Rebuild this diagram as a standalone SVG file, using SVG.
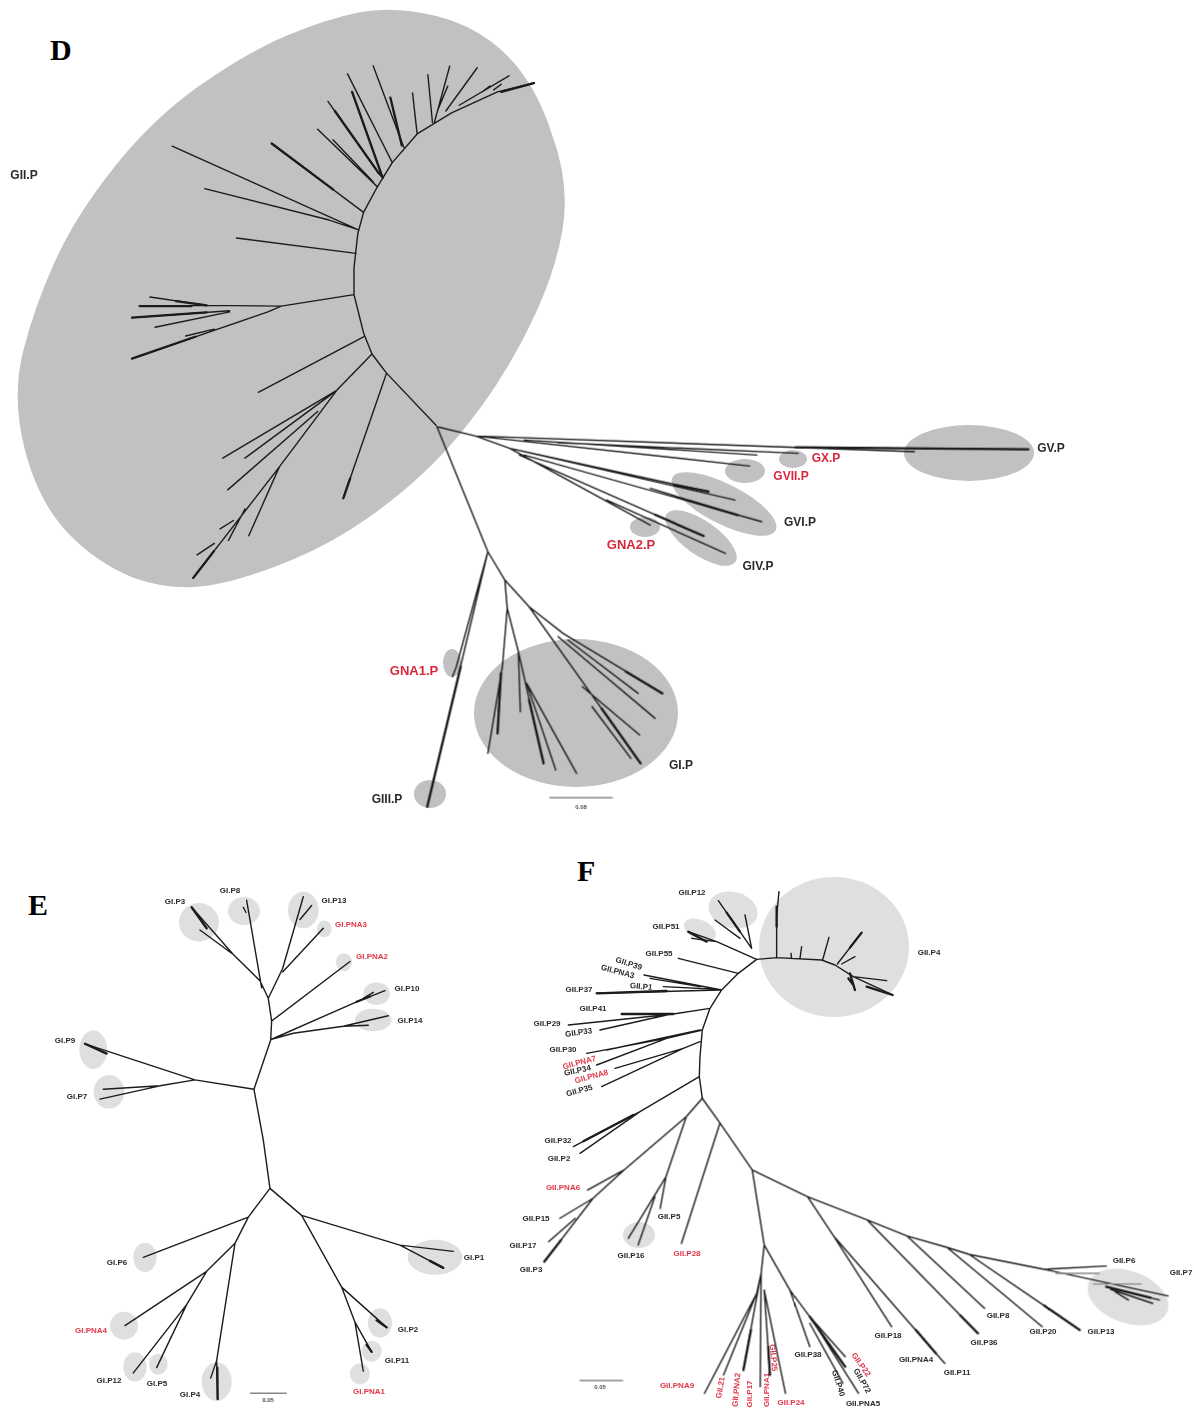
<svg xmlns="http://www.w3.org/2000/svg" width="1194" height="1409" viewBox="0 0 1194 1409">
<style>
text{font-family:"Liberation Sans",Arial,sans-serif;font-weight:bold;text-anchor:middle;fill:#2a2a2a}
.big{font-family:"Liberation Serif","Times New Roman",serif;font-size:30px;fill:#000;text-anchor:start}
.d{font-size:12px}.dr{font-size:13px;fill:#d8283c}
.s{font-size:8px}.sr{font-size:8px;fill:#e0384a}
.tiny{font-size:6px;fill:#555}
.c1{fill:#c2c0c1}.c2{fill:#e0dfe0}
.l{fill:none;stroke:#1c1c1c;stroke-width:1.4;vector-effect:non-scaling-stroke;stroke-linecap:round;stroke-linejoin:round}
.t{fill:none;stroke:#1a1a1a;stroke-width:2.3;vector-effect:non-scaling-stroke;stroke-linecap:round}
.g{fill:none;stroke:#888;stroke-width:1.4;vector-effect:non-scaling-stroke}
</style>
<defs>
<filter id="bl" x="-5%" y="-5%" width="110%" height="110%"><feGaussianBlur stdDeviation="0.35"/></filter>
<filter id="bl2" x="-5%" y="-5%" width="110%" height="110%"><feGaussianBlur stdDeviation="0.55"/></filter>
</defs>
<rect width="1194" height="1409" fill="#fff"/>
<text class="big" x="50" y="60">D</text>
<text class="big" x="28" y="915">E</text>
<text class="big" x="577" y="881">F</text>

<g id="nodes-d" filter="url(#bl)">
<g id="d-gii"><path class="c1" transform="scale(.3827)" d="M940 32Q1030 15 1140 42Q1250 70 1325 145Q1400 220 1442 350Q1490 480 1470 600Q1450 720 1380 860Q1310 1000 1225 1105Q1140 1215 1020 1310Q900 1405 770 1460Q640 1515 545 1530Q450 1545 350 1510Q250 1470 175 1390Q100 1310 65 1175Q30 1040 60 920Q90 800 145 680Q200 560 300 435Q400 310 520 225Q640 140 745 95Q850 50 940 32Z"/><text class="d" x="24" y="179">GII.P</text></g>
<g id="d-gv"><ellipse class="c1" cx="969" cy="453" rx="65" ry="28"/><text class="d" x="1051" y="452">GV.P</text></g>
<g id="d-gx"><ellipse class="c1" cx="793" cy="459" rx="14" ry="9"/><text class="dr" x="826" y="462" style="font-size:12px">GX.P</text></g>
<g id="d-gvii"><ellipse class="c1" cx="745" cy="471" rx="20" ry="12"/><text class="dr" x="791" y="480" style="font-size:12px">GVII.P</text></g>
<g id="d-gvi"><ellipse class="c1" cx="724" cy="504" rx="58" ry="20" transform="rotate(27 724 504)"/><text class="d" x="800" y="526">GVI.P</text></g>
<g id="d-gna2"><ellipse class="c1" cx="645" cy="527" rx="15" ry="10"/><text class="dr" x="631" y="549">GNA2.P</text></g>
<g id="d-giv"><ellipse class="c1" cx="701" cy="538" rx="42" ry="17" transform="rotate(35 701 538)"/><text class="d" x="758" y="570">GIV.P</text></g>
<g id="d-gna1"><ellipse class="c1" cx="452" cy="663" rx="9" ry="14"/><text class="dr" x="414" y="675">GNA1.P</text></g>
<g id="d-gi"><ellipse class="c1" cx="576" cy="713" rx="102" ry="74"/><text class="d" x="681" y="769">GI.P</text></g>
<g id="d-giii"><ellipse class="c1" cx="430" cy="794" rx="16" ry="14"/><text class="d" x="387" y="803">GIII.P</text></g>
</g>

<g id="connectors-d" filter="url(#bl)">
<g transform="scale(.3827)">
<path class="l" d="M1395 217L1300 240L1180 295L1090 350L1025 425L985 490L950 555L935 610L925 700L925 770L950 870L972 925L1010 975L1140 1112
M1025 425L908 193M1055 385L975 172M1000 465L920 240M995 460L857 265M985 487L830 338M975 475L870 365M950 555L710 375M935 600L450 382M935 600L860 575L535 493M930 662L618 622
M925 770L735 800L540 798L392 776M540 798L365 800M600 812L345 830M600 815L405 855M735 800L700 815L345 937M560 860L485 878
M1090 350L1078 243M1130 320L1118 195M1135 320L1175 173M1165 290L1247 177M1200 275L1330 198M1260 240L1280 225M1145 285L1170 225M1290 235L1310 220
M950 880L675 1025M972 925L880 1020L582 1197M880 1020L640 1197M830 1075L595 1280M880 1020L730 1220L505 1510M730 1220L650 1400M640 1330L597 1412M610 1360L575 1382M560 1420L515 1450M1010 975L897 1302"/>
<path class="t" d="M1050 380L1020 255M1000 465L920 240M990 453L875 290M870 495L710 375M510 880L345 937M1395 217L1310 240M915 1250L897 1302M559 1440L505 1510M540 798L460 787M500 800L365 800M540 816L345 830"/>
</g>
<g transform="translate(340 400) scale(.4847 .3333)">
<path class="l" d="M200 80L305 455L340 540L390 620L460 700L665 880M305 455L180 1220M305 455L240 800L232 830M340 540L345 625L368 755L372 935M345 625L335 800L305 1060M332 820L325 1000M368 755L420 1090M385 850L445 1110M385 850L488 1120M390 620L620 1090M450 710L650 955M500 860L618 1005M520 920L600 1075M470 720L615 880
M200 80L280 108L940 142L1420 148M280 108L1185 155M380 120L860 165M280 108L845 198M450 128L945 160M280 108L350 145L760 275M350 145L815 300M380 165L870 365M640 265L820 345M350 145L640 375M370 165L750 408M550 300L795 460"/>
<path class="t" d="M249 800L180 1220M940 142L1420 148M690 255L760 275M720 302L820 345M650 344L750 408M540 926L620 1090M390 900L420 1090M590 815L665 880M332 820L325 1000"/>
<path class="g" d="M432 1193H563"/>
</g>
</g>
<text class="tiny" x="581" y="809">0.08</text>

<g id="nodes-e" filter="url(#bl2)">
<g transform="translate(0 860) scale(.3333 .3501)">
<ellipse class="c2" cx="597" cy="178" rx="60" ry="55"/><ellipse class="c2" cx="732" cy="146" rx="48" ry="40"/><ellipse class="c2" cx="910" cy="143" rx="46" ry="52"/><ellipse class="c2" cx="973" cy="197" rx="22" ry="24"/><ellipse class="c2" cx="1032" cy="292" rx="24" ry="26"/><ellipse class="c2" cx="1130" cy="382" rx="40" ry="32"/><ellipse class="c2" cx="1120" cy="457" rx="55" ry="32"/><ellipse class="c2" cx="280" cy="542" rx="42" ry="55"/><ellipse class="c2" cx="327" cy="662" rx="46" ry="48"/><ellipse class="c2" cx="435" cy="1135" rx="35" ry="42"/><ellipse class="c2" cx="372" cy="1330" rx="42" ry="40"/><ellipse class="c2" cx="405" cy="1448" rx="35" ry="42"/><ellipse class="c2" cx="475" cy="1440" rx="28" ry="30"/><ellipse class="c2" cx="650" cy="1490" rx="45" ry="55"/><ellipse class="c2" cx="1305" cy="1135" rx="82" ry="50"/><ellipse class="c2" cx="1140" cy="1322" rx="36" ry="42"/><ellipse class="c2" cx="1115" cy="1403" rx="30" ry="30"/><ellipse class="c2" cx="1080" cy="1468" rx="30" ry="30"/>
</g>
<g id="e-labels">
<text class="s" x="175" y="904">GI.P3</text><text class="s" x="230" y="893">GI.P8</text><text class="s" x="334" y="903">GI.P13</text><text class="sr" x="351" y="927">GI.PNA3</text><text class="sr" x="372" y="959">GI.PNA2</text><text class="s" x="407" y="991">GI.P10</text><text class="s" x="410" y="1023">GI.P14</text><text class="s" x="65" y="1043">GI.P9</text><text class="s" x="77" y="1099">GI.P7</text><text class="s" x="117" y="1265">GI.P6</text><text class="sr" x="91" y="1333">GI.PNA4</text><text class="s" x="109" y="1383">GI.P12</text><text class="s" x="157" y="1386">GI.P5</text><text class="s" x="190" y="1397">GI.P4</text><text class="s" x="474" y="1260">GI.P1</text><text class="s" x="408" y="1332">GI.P2</text><text class="s" x="397" y="1363">GI.P11</text><text class="sr" x="369" y="1394">GI.PNA1</text>
</g>
</g>
<g id="connectors-e" filter="url(#bl2)">
<g transform="translate(0 860) scale(.3333 .3501)">
<path class="l" d="M762 655L790 800L810 938M762 655L812 515L815 460L805 395M805 395L780 345L700 270L575 135M700 270L600 200M785 365L740 115M738 150L730 135M805 395L848 310L910 105M900 170L935 130M848 320L970 195M815 460L1050 290M815 512L1070 405L1155 373M1090 395L1120 378M815 512L880 495L1030 475L1165 445M1030 475L1105 472M762 655L585 628L255 525M585 628L480 645L310 655M480 645L300 683M810 938L745 1020L430 1135M745 1020L705 1095L620 1175L375 1330M620 1175L560 1270L400 1465M560 1270L470 1450M705 1095L650 1430L653 1540M650 1430L632 1480M810 938L905 1015L1200 1100L1360 1118M1200 1100L1330 1165M905 1015L1025 1220L1160 1335M1025 1220L1065 1320L1090 1460M1065 1320L1115 1405"/>
<path class="t" d="M320 553L255 525M620 195L575 135M1070 405L1110 390M1130 1315L1160 1335M1290 1145L1330 1165M1100 1385L1115 1405M652 1450L653 1540"/>
<path class="g" d="M750 1523H860"/>
</g>
</g>
<text class="tiny" x="268" y="1402">0.05</text>

<g id="nodes-f" filter="url(#bl2)">
<g id="f-p4"><ellipse class="c2" cx="834" cy="947" rx="75" ry="70"/><text class="s" x="929" y="955">GII.P4</text></g>
<g id="f-p12"><ellipse class="c2" cx="733" cy="910" rx="25" ry="18" transform="rotate(15 733 910)"/><text class="s" x="692" y="895">GII.P12</text></g>
<g id="f-p51"><ellipse class="c2" cx="700" cy="930" rx="17" ry="10" transform="rotate(25 700 930)"/><text class="s" x="666" y="929">GII.P51</text></g>
<g id="f-p16"><ellipse class="c2" cx="639" cy="1235" rx="16" ry="13"/><text class="s" x="631" y="1258">GII.P16</text></g>
<g id="f-p7"><ellipse class="c2" cx="1128" cy="1297" rx="42" ry="26" transform="rotate(20 1128 1297)"/><text class="s" x="1181" y="1275">GII.P7</text></g>
<g id="f-labels">
<text class="s" x="659" y="956">GII.P55</text>
<text class="s" transform="translate(628 966) rotate(18)">GII.P39</text>
<text class="s" transform="translate(617 974) rotate(15)">GII.PNA3</text>
<text class="s" transform="translate(641 989) rotate(5)">GII.P1</text>
<text class="s" x="579" y="992">GII.P37</text>
<text class="s" x="593" y="1011">GII.P41</text>
<text class="s" x="547" y="1026">GII.P29</text>
<text class="s" transform="translate(579 1035) rotate(-8)">GII.P33</text>
<text class="s" x="563" y="1052">GII.P30</text>
<text class="sr" transform="translate(580 1065) rotate(-15)">GII.PNA7</text>
<text class="s" transform="translate(578 1073) rotate(-12)">GII.P34</text>
<text class="sr" transform="translate(592 1079) rotate(-15)">GII.PNA8</text>
<text class="s" transform="translate(580 1093) rotate(-15)">GII.P35</text>
<text class="s" x="558" y="1143">GII.P32</text>
<text class="s" x="559" y="1161">GII.P2</text>
<text class="sr" x="563" y="1190">GII.PNA6</text>
<text class="s" x="536" y="1221">GII.P15</text>
<text class="s" x="523" y="1248">GII.P17</text>
<text class="s" x="531" y="1272">GII.P3</text>
<text class="s" x="669" y="1219">GII.P5</text>
<text class="sr" x="687" y="1256">GII.P28</text>
<text class="s" x="1124" y="1263">GII.P6</text>
<text class="s" x="998" y="1318">GII.P8</text>
<text class="s" x="1043" y="1334">GII.P20</text>
<text class="s" x="1101" y="1334">GII.P13</text>
<text class="s" x="984" y="1345">GII.P36</text>
<text class="s" x="888" y="1338">GII.P18</text>
<text class="s" x="916" y="1362">GII.PNA4</text>
<text class="s" x="957" y="1375">GII.P11</text>
<text class="s" x="808" y="1357">GII.P38</text>
<text class="sr" transform="translate(859 1366) rotate(55)">GII.P22</text>
<text class="s" transform="translate(860 1382) rotate(60)">GII.P72</text>
<text class="s" transform="translate(836 1384) rotate(72)">GII.P40</text>
<text class="s" x="863" y="1406">GII.PNA5</text>
<text class="sr" x="677" y="1388">GII.PNA9</text>
<text class="sr" transform="translate(723 1388) rotate(-80)">GII.21</text>
<text class="sr" transform="translate(739 1390) rotate(-85)">GII.PNA2</text>
<text class="sr" transform="translate(752 1394) rotate(-90)">GII.P17</text>
<text class="sr" transform="translate(769 1390) rotate(-90)">GII.PNA1</text>
<text class="sr" transform="translate(771 1358) rotate(85)">GII.P25</text>
<text class="sr" x="791" y="1405">GII.P24</text>
</g>
</g>
<g id="connectors-f" filter="url(#bl2)">
<g transform="translate(500 860) scale(.3333)">
<path class="l" d="M770 298L715 340L665 390L630 445L607 510L600 590L598 650L607 715M770 298L830 293L965 300L1005 315L1060 350L1178 405M830 293L830 170L837 95M875 295L873 280M900 295L905 260M968 300L987 232M1012 312L1085 218M1025 312L1065 290M1060 350L1160 362M755 265L735 165M755 265L655 122M720 235L645 180M770 298L650 245L565 215M650 245L575 235M715 340L535 295M665 390L432 345M660 390L290 400M650 388L490 380M600 380L450 355M630 445L520 462L205 495M520 462L365 462M500 465L300 510M607 510L500 535L260 580M500 535L290 615M600 510L320 570M600 545L550 565L345 625M550 565L305 680M598 650L420 755L220 860M420 755L240 880"/>
<path class="t" d="M830 140L830 200M1050 340L1065 390M1045 355L1060 375M1085 218L1050 263M720 215L680 158M500 393L290 400M520 462L365 462M400 765L250 844M620 245L565 215M1100 380L1178 405"/>
</g>
<g transform="translate(500 1130) scale(.4425 .3333)">
<path class="l" d="M457 -95L421 -40L280 120L210 205L100 395M280 120L198 180M210 205L135 265M170 265L110 335M421 -40L375 140L290 325M375 140L362 235M350 200L312 345M457 -95L497 -21L570 120M497 -21L410 340M570 120L695 200L830 270L920 318L1010 352L1060 373L1230 418L1510 498M1230 418L1370 408M1370 470L1490 510M1380 478L1475 520M1390 485L1420 510M695 200L755 320L885 590M755 320L985 670L1005 700M830 270L1080 610M920 318L1095 535M1010 352L1225 590M1060 373L1310 600M570 120L597 345L590 430L580 490L462 790M580 490L505 735M590 430L550 720M590 430L588 770M597 480L610 735M597 480L645 790M597 345L655 480L700 650M655 480L700 560L780 680M700 560L780 710M720 600L810 790M700 580L775 760"/>
<path class="t" d="M138 330L100 395M1370 470L1470 503M1230 527L1310 600M1040 556L1080 610M567 600L550 720M606 650L610 735M700 560L780 710M940 600L985 670"/>
<path class="g" d="M180 752H278M1340 462H1450M1255 430H1355"/>
</g>
</g>
<text class="tiny" x="600" y="1389">0.05</text>
</svg>
